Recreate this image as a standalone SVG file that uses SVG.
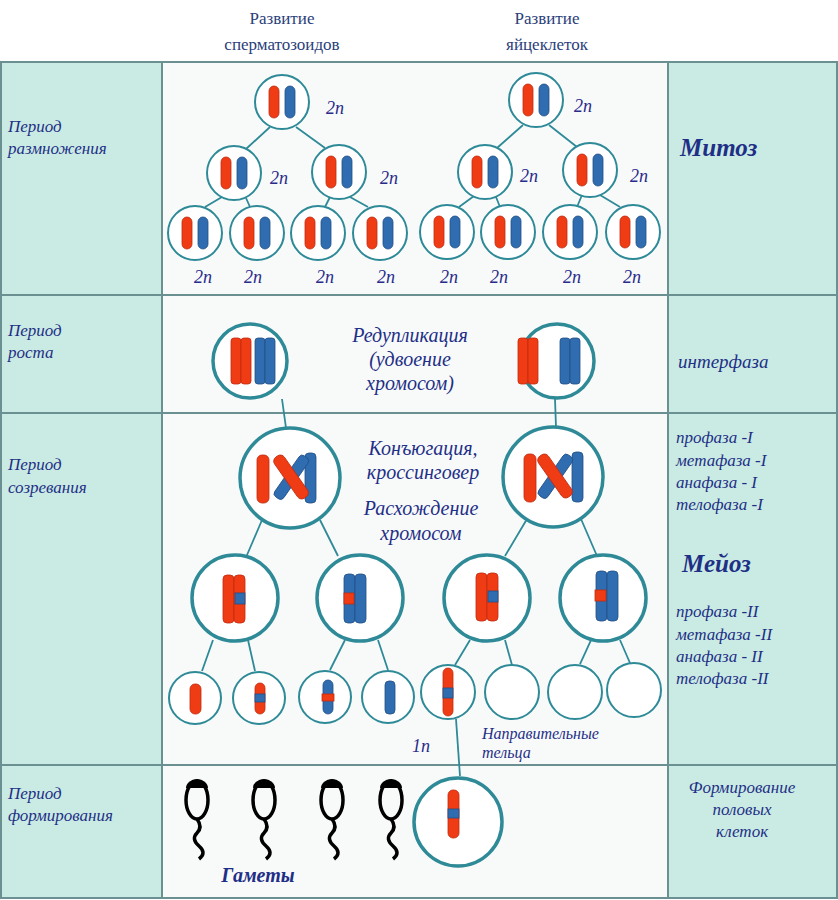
<svg xmlns="http://www.w3.org/2000/svg" width="838" height="900" viewBox="0 0 838 900">
<defs>
<style>
.cell{fill:#c9ebe3;stroke:#6a9092;stroke-width:2}
.mid{fill:#f8fafa;stroke:#6a9092;stroke-width:2}
.c{fill:#fff;stroke:#2f8a98;stroke-width:2}
.cb{fill:#fff;stroke:#2f8a98;stroke-width:3.5}
.ln{stroke:#2f8a98;stroke-width:1.8;fill:none}
.r{fill:#f03c14;stroke:#c02a10;stroke-width:0.8}
.b{fill:#2f6db0;stroke:#224f86;stroke-width:0.8}
.t{font-family:"Liberation Serif",serif;font-style:italic;fill:#1f2f86}
.h{font-family:"Liberation Serif",serif;fill:#2a3e7a;font-size:17px;text-anchor:middle}
.n{font-family:"Liberation Serif",serif;font-style:italic;fill:#2a2a8a;font-size:18px}
.sp{fill:none;stroke:#000;stroke-width:3.5}
</style>
<g id="pair"><rect class="r" x="-13" y="-16" width="10" height="32" rx="5"/><rect class="b" x="3" y="-16" width="10" height="32" rx="5"/></g>
</defs>
<rect width="838" height="900" fill="#fff"/>
<g id="table">
<rect class="cell" x="1" y="62" width="161" height="836"/>
<rect class="cell" x="668" y="62" width="169" height="836"/>
<rect class="mid" x="162" y="62" width="506" height="836"/>
<path d="M1 295H837M1 413H837M1 765H837" stroke="#6a9092" stroke-width="2"/>
</g>
<g id="headers">
<text class="h" x="282" y="24">Развитие</text><text class="h" x="282" y="50">сперматозоидов</text>
<text class="h" x="547" y="24">Развитие</text><text class="h" x="547" y="50">яйцеклеток</text>
</g>
<g id="left-labels" class="t" font-size="17">
<text x="8" y="132">Период</text><text x="8" y="154">размножения</text>
<text x="8" y="336">Период</text><text x="8" y="358">роста</text>
<text x="8" y="470">Период</text><text x="8" y="493">созревания</text>
<text x="8" y="799">Период</text><text x="8" y="821">формирования</text>
</g>
<g id="right-labels" class="t">
<text x="680" y="156" font-size="25" font-weight="bold">Митоз</text>
<text x="678" y="368" font-size="19">интерфаза</text>
<text x="676" y="443" font-size="17">профаза -I</text>
<text x="676" y="466" font-size="17">метафаза -I</text>
<text x="676" y="488" font-size="17">анафаза - I</text>
<text x="676" y="510" font-size="17">телофаза -I</text>
<text x="682" y="572" font-size="25" font-weight="bold">Мейоз</text>
<text x="676" y="617" font-size="17">профаза -II</text>
<text x="676" y="640" font-size="17">метафаза -II</text>
<text x="676" y="662" font-size="17">анафаза - II</text>
<text x="676" y="684" font-size="17">телофаза -II</text>
<text x="742" y="793" font-size="17" text-anchor="middle">Формирование</text>
<text x="742" y="815" font-size="17" text-anchor="middle">половых</text>
<text x="742" y="837" font-size="17" text-anchor="middle">клеток</text>
</g>
<g id="connectors" class="ln">
<path d="M270 127L246 149M296 127L325 148M222 197L205 207M246 198L250 207M330 197L325 207M350 197L368 207"/>
<path d="M523 125L497 148M549 125L577 147M474 196L459 207M496 197L500 207M582 195L577 207M600 195L620 207"/>
<path d="M282 399L286 428M555 399L556 427"/>
<path d="M262 520L247 555M320 520L338 556M527 519L505 556M581 519L597 556"/>
<path d="M213 640L202 671M248 640L255 671M345 640L330 670M378 640L388 670M470 640L455 665M505 640L512 665M591 640L580 664M620 640L630 663"/>
<path d="M456 719L460 776"/>
</g>
<g id="mitosis">
<circle class="c" cx="282" cy="102" r="27"/><use href="#pair" x="282" y="102"/>
<circle class="c" cx="234" cy="173" r="27"/><use href="#pair" x="234" y="173"/>
<circle class="c" cx="339" cy="172" r="27"/><use href="#pair" x="339" y="172"/>
<circle class="c" cx="195" cy="233" r="27"/><use href="#pair" x="195" y="233"/>
<circle class="c" cx="257" cy="233" r="27"/><use href="#pair" x="257" y="233"/>
<circle class="c" cx="318" cy="233" r="27"/><use href="#pair" x="318" y="233"/>
<circle class="c" cx="380" cy="233" r="27"/><use href="#pair" x="380" y="233"/>
<circle class="c" cx="536" cy="100" r="27"/><use href="#pair" x="536" y="100"/>
<circle class="c" cx="485" cy="172" r="27"/><use href="#pair" x="485" y="172"/>
<circle class="c" cx="590" cy="170" r="27"/><use href="#pair" x="590" y="170"/>
<circle class="c" cx="447" cy="232" r="27"/><use href="#pair" x="447" y="232"/>
<circle class="c" cx="508" cy="232" r="27"/><use href="#pair" x="508" y="232"/>
<circle class="c" cx="570" cy="232" r="27"/><use href="#pair" x="570" y="232"/>
<circle class="c" cx="633" cy="232" r="27"/><use href="#pair" x="633" y="232"/>
<g class="n"><text x="326" y="114">2n</text><text x="270" y="184">2n</text><text x="380" y="184">2n</text>
<text x="194" y="283">2n</text><text x="244" y="283">2n</text><text x="316" y="283">2n</text><text x="377" y="283">2n</text>
<text x="574" y="112">2n</text><text x="520" y="182">2n</text><text x="630" y="182">2n</text>
<text x="440" y="283">2n</text><text x="490" y="283">2n</text><text x="563" y="283">2n</text><text x="623" y="283">2n</text></g>
</g>
<g id="growth">
<circle class="cb" cx="250" cy="361" r="37"/>
<rect class="r" x="231" y="338" width="10" height="46" rx="3"/><rect class="r" x="241" y="338" width="10" height="46" rx="3"/>
<rect class="b" x="255" y="338" width="10" height="46" rx="3"/><rect class="b" x="265" y="338" width="10" height="46" rx="3"/>
<circle class="cb" cx="557" cy="361" r="37"/>
<rect class="r" x="518" y="338" width="10" height="46" rx="3"/><rect class="r" x="528" y="338" width="10" height="46" rx="3"/>
<rect class="b" x="560" y="338" width="10" height="46" rx="3"/><rect class="b" x="570" y="338" width="10" height="46" rx="3"/>
<g class="t" font-size="20" text-anchor="middle"><text x="410" y="342">Редупликация</text><text x="410" y="366">(удвоение</text><text x="410" y="390">хромосом)</text></g>
</g>
<g id="meiosis">
<g id="big1">
<circle class="cb" cx="290" cy="478" r="50"/>
<rect class="r" x="257" y="455" width="12" height="48" rx="5"/>
<rect class="b" x="305" y="453" width="11" height="50" rx="4"/>
<rect class="b" x="286" y="452" width="11" height="50" rx="4" transform="rotate(35 291 477)"/>
<rect class="r" x="285" y="452" width="12" height="50" rx="5" transform="rotate(-35 291 477)"/>
</g>
<g id="big2">
<circle class="cb" cx="553" cy="477" r="50"/>
<rect class="r" x="524" y="454" width="12" height="48" rx="5"/>
<rect class="b" x="572" y="452" width="11" height="50" rx="4"/>
<rect class="b" x="550" y="451" width="11" height="50" rx="4" transform="rotate(35 555 476)"/>
<rect class="r" x="549" y="451" width="12" height="50" rx="5" transform="rotate(-35 555 476)"/>
</g>
<g class="t" font-size="20" text-anchor="middle"><text x="423" y="455">Конъюгация,</text><text x="423" y="479">кроссинговер</text><text x="421" y="515">Расхождение</text><text x="421" y="540">хромосом</text></g>
<circle class="cb" cx="235" cy="598" r="43"/>
<rect class="r" x="223" y="575" width="11" height="48" rx="4"/><rect class="r" x="234" y="575" width="11" height="48" rx="4"/><rect class="b" x="235" y="593" width="10" height="11"/>
<circle class="cb" cx="360" cy="598" r="43"/>
<rect class="b" x="344" y="574" width="11" height="49" rx="4"/><rect class="b" x="355" y="574" width="11" height="49" rx="4"/><rect class="r" x="344" y="593" width="10" height="11"/>
<circle class="cb" cx="487" cy="598" r="43"/>
<rect class="r" x="476" y="573" width="11" height="48" rx="4"/><rect class="r" x="487" y="573" width="11" height="48" rx="4"/><rect class="b" x="488" y="591" width="10" height="11"/>
<circle class="cb" cx="603" cy="598" r="43"/>
<rect class="b" x="596" y="571" width="11" height="50" rx="4"/><rect class="b" x="607" y="571" width="11" height="50" rx="4"/><rect class="r" x="595" y="590" width="11" height="11"/>
<circle class="c" cx="195" cy="698" r="26"/><rect class="r" x="190" y="684" width="11" height="30" rx="5"/>
<circle class="c" cx="259" cy="698" r="26"/><rect class="r" x="255" y="683" width="10" height="31" rx="5"/><rect class="b" x="255" y="694" width="10" height="8"/>
<circle class="c" cx="325" cy="697" r="26"/><rect class="b" x="323" y="680" width="10" height="34" rx="5"/><rect class="r" x="322" y="694" width="12" height="7"/>
<circle class="c" cx="388" cy="697" r="26"/><rect class="b" x="385" y="681" width="10" height="33" rx="4"/>
<circle class="c" cx="448" cy="692" r="27"/><rect class="r" x="443" y="668" width="10" height="48" rx="5"/><rect class="b" x="443" y="688" width="10" height="10"/>
<circle class="c" cx="512" cy="692" r="27"/>
<circle class="c" cx="575" cy="692" r="27"/>
<circle class="c" cx="634" cy="690" r="27"/>
<text class="n" x="412" y="752">1n</text>
<g class="t" font-size="16"><text x="482" y="739">Направительные</text><text x="482" y="758">тельца</text></g>
</g>
<g id="gametes">
<g class="sp">
<ellipse cx="197" cy="800" rx="11" ry="19"/><path d="M197 819q6 8 0 14t2 13t0 13"/>
<ellipse cx="264" cy="800" rx="11" ry="19"/><path d="M264 819q6 8 0 14t2 13t0 13"/>
<ellipse cx="332" cy="800" rx="11" ry="19"/><path d="M332 819q6 8 0 14t2 13t0 13"/>
<ellipse cx="391" cy="800" rx="11" ry="19"/><path d="M391 819q6 8 0 14t2 13t0 13"/>
</g>
<path d="M186 788a11 9 0 0 1 22 0z M253 788a11 9 0 0 1 22 0z M321 788a11 9 0 0 1 22 0z M380 788a11 9 0 0 1 22 0z" fill="#000"/>
<circle class="cb" cx="458" cy="822" r="44"/>
<rect class="r" x="448" y="790" width="11" height="48" rx="5"/><rect class="b" x="448" y="809" width="11" height="9"/>
<text class="t" x="258" y="882" font-size="20" font-weight="bold" text-anchor="middle">Гаметы</text>
</g>
</svg>
